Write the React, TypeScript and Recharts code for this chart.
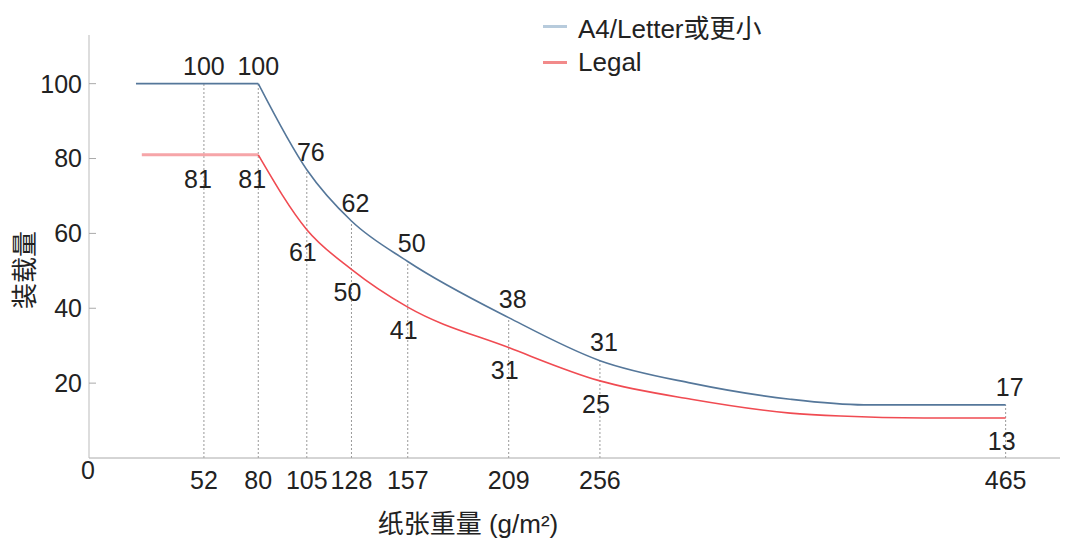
import { LineChart, Line, XAxis, YAxis, ReferenceLine, LabelList, Label } from "recharts"

// tick weights and printed load values
const weights = [52, 80, 105, 128, 157, 209, 256, 465]
const a4Labels = [100, 100, 76, 62, 50, 38, 31, 17]
const legalLabels = [81, 81, 61, 50, 41, 31, 25, 13]
const yTicks = [20, 40, 60, 80, 100]

// curves as drawn in the picture
const a4W = [17, 52, 80, 105, 128, 157, 209, 256, 303, 354, 392, 465]
const a4V = [100, 100, 100, 77, 63.3, 52.5, 37.5, 26, 20, 15.7, 14.2, 14.2]
const legalW = [20, 52, 80, 105, 128, 157, 209, 256, 303, 354, 380, 423, 465]
const legalV = [81, 81, 81, 61, 50.4, 40.3, 29.5, 20.6, 15.7, 12, 11.2, 10.7, 10.7]

const FONT = "'Liberation Sans', Arial, 'Noto Sans CJK SC', sans-serif"
const A4_COLOR = "#55779a"
const LEGAL_COLOR = "#f04b52"

const rowsFor = (ws: number[], vs: number[], labels: number[]) =>
  ws.map((w, i) => {
    const k = weights.indexOf(w)
    return { w, v: vs[i], label: k >= 0 ? labels[k] : null }
  })

const a4Rows = rowsFor(a4W, a4V, a4Labels)
const legalRows = rowsFor(legalW, legalV, legalLabels)
const split = (rows: any[]) => ({
  flat: rows.filter((r) => r.w <= 80),
  curve: rows.filter((r) => r.w >= 80).map((r) => (r.w === 80 ? { ...r, label: null } : r)),
})
const a4 = split(a4Rows)
const legal = split(legalRows)

const pointLabel = (dx: number, dy: number) => (props: any) => {
  const { x, y, value } = props
  if (value === null || value === undefined) return null
  return (
    <text x={x + dx} y={y + dy} dy="0.35em" textAnchor="middle" fill="#222" fontSize={25} fontFamily={FONT}>
      {value}
    </text>
  )
}

const legendItems = [
  { name: "A4/Letter或更小", color: "#b7cbdc" },
  { name: "Legal", color: "#f28a8a" },
]

export default function App() {
  return (
    <div style={{ fontFamily: FONT, position: "relative", width: 1062, height: 536 }}>
      <div style={{ position: "absolute", left: 535, top: 0, fontSize: 26, color: "#222" }}>
        {legendItems.map((it) => (
          <div key={it.name} style={{ height: 36, display: "flex", alignItems: "center" }}>
            <span style={{ display: "inline-block", width: 24, height: 3, background: it.color, marginRight: 11 }} />
            <span>{it.name}</span>
          </div>
        ))}
      </div>
      <LineChart width={1062} height={536} margin={{ top: 27, right: 10, bottom: 0, left: 0 }}>
        <XAxis
          dataKey="w"
          type="number"
          domain={[-7.2, 493]}
          ticks={weights}
          interval={0}
          allowDataOverflow
          height={86}
          tickLine={false}
          tickSize={0}
          tickMargin={13}
          axisLine={{ stroke: "#aaa" }}
          tick={{ fill: "#222", fontSize: 25 }}
        >
          <Label
            content={({ viewBox }: any) => (
              <text x={viewBox.x - 1} y={viewBox.y + 21} textAnchor="middle" fill="#222" fontSize={25} fontFamily={FONT}>
                0
              </text>
            )}
          />
          <Label
            content={({ viewBox }: any) => (
              <text x={viewBox.x + 379} y={viewBox.y + 75} textAnchor="middle" fill="#222" fontSize={26} fontFamily={FONT}>
                纸张重量 (g/m²)
              </text>
            )}
          />
        </XAxis>
        <YAxis
          type="number"
          domain={[0, 113]}
          ticks={yTicks}
          interval={0}
          width={81}
          tickSize={-7}
          tickMargin={14}
          axisLine={{ stroke: "#bbb" }}
          tickLine={{ stroke: "#aaa" }}
          tick={{ fill: "#222", fontSize: 25 }}
        >
          <Label
            content={({ viewBox }: any) => (
              <text
                x={viewBox.x + 17}
                y={viewBox.y + 235}
                dy="0.35em"
                textAnchor="middle"
                fill="#222"
                fontSize={26}
                fontFamily={FONT}
                transform={`rotate(-90, ${viewBox.x + 17}, ${viewBox.y + 235})`}
              >
                装载量
              </text>
            )}
          />
        </YAxis>
        {weights.map((w) => {
          const top = a4V[a4W.indexOf(w)]
          return (
            <ReferenceLine
              key={w}
              segment={[{ x: w, y: 0 }, { x: w, y: top }]}
              stroke="#999"
              strokeDasharray="2 2"
              strokeWidth={1}
            />
          )
        })}
        <Line data={a4.flat} dataKey="v" type="linear" stroke={A4_COLOR} strokeWidth={1.6} dot={false} activeDot={false} isAnimationActive={false} legendType="none">
          <LabelList dataKey="label" content={pointLabel(0, -17)} />
        </Line>
        <Line data={a4.curve} dataKey="v" type="monotone" stroke={A4_COLOR} strokeWidth={1.6} dot={false} activeDot={false} isAnimationActive={false} legendType="none">
          <LabelList dataKey="label" content={pointLabel(4, -18)} />
        </Line>
        <Line data={legal.flat} dataKey="v" type="linear" stroke="#f6a5a8" strokeWidth={3} dot={false} activeDot={false} isAnimationActive={false} legendType="none">
          <LabelList dataKey="label" content={pointLabel(-6, 24)} />
        </Line>
        <Line data={legal.curve} dataKey="v" type="monotone" stroke={LEGAL_COLOR} strokeWidth={1.6} dot={false} activeDot={false} isAnimationActive={false} legendType="none">
          <LabelList dataKey="label" content={pointLabel(-4, 23)} />
        </Line>
      </LineChart>
    </div>
  )
}
